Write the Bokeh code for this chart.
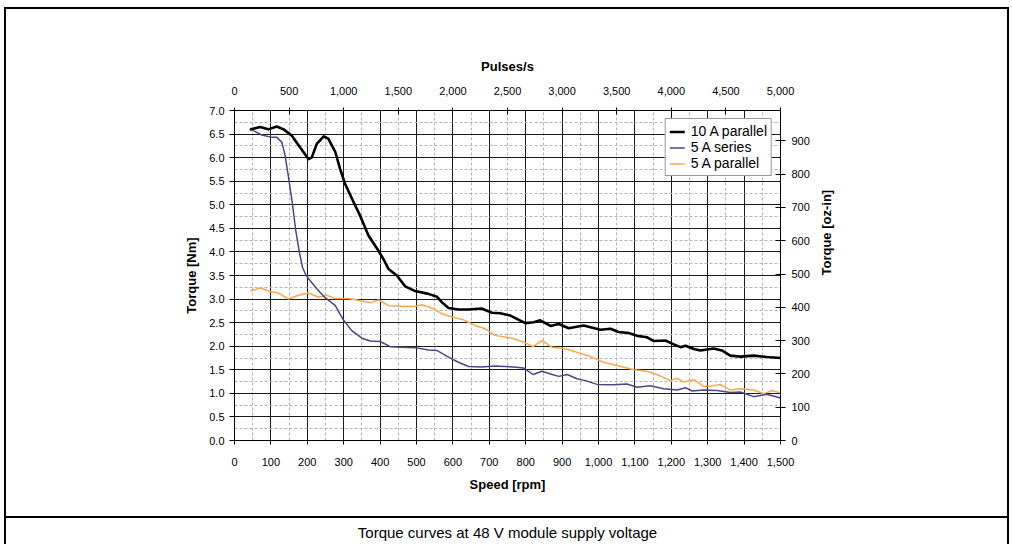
import math
from bokeh.plotting import figure
from bokeh.models import (Range1d, LinearAxis, SingleIntervalTicker, NumeralTickFormatter,
                          FixedTicker, Legend, LegendItem, Grid)
from bokeh.embed import file_html
from bokeh.resources import INLINE

# ---------------- data ----------------
rpm_10a_par = [45, 70, 93, 116, 135, 157, 180, 203, 212, 226, 245, 258, 277, 290, 304, 327, 345,
               368, 396, 409, 423, 446, 469, 496, 533, 556, 570, 588, 615, 643, 679, 707, 730,
               758, 799, 822, 840, 868, 891, 918, 959, 1005, 1033, 1055, 1083, 1106, 1133, 1152,
               1184, 1207, 1225, 1239, 1262, 1280, 1316, 1339, 1362, 1390, 1426, 1463, 1500]
nm_10a_par = [6.60, 6.65, 6.60, 6.66, 6.60, 6.47, 6.22, 5.97, 6.00, 6.29, 6.45, 6.40, 6.12, 5.76,
              5.44, 5.06, 4.77, 4.35, 4.02, 3.85, 3.64, 3.50, 3.27, 3.17, 3.11, 3.05, 2.93, 2.81,
              2.78, 2.78, 2.80, 2.71, 2.70, 2.65, 2.49, 2.51, 2.55, 2.43, 2.47, 2.38, 2.44, 2.35,
              2.37, 2.30, 2.28, 2.22, 2.19, 2.11, 2.12, 2.04, 1.98, 2.01, 1.94, 1.91, 1.95, 1.91,
              1.80, 1.78, 1.80, 1.77, 1.75]

rpm_5a_ser = [45, 75, 103, 116, 130, 139, 149, 159, 168, 178, 187, 196, 208, 226, 249, 277, 299,
              322, 350, 373, 400, 428, 460, 496, 533, 556, 588, 615, 643, 679, 716, 767, 794, 820,
              845, 868, 891, 914, 941, 964, 996, 1042, 1078, 1106, 1142, 1179, 1216, 1239, 1257,
              1289, 1326, 1362, 1390, 1426, 1463, 1500]
nm_5a_ser = [6.60, 6.48, 6.43, 6.43, 6.33, 6.05, 5.55, 5.03, 4.47, 4.00, 3.67, 3.51, 3.39, 3.22,
             3.03, 2.86, 2.56, 2.33, 2.17, 2.11, 2.10, 1.99, 1.98, 1.97, 1.92, 1.91, 1.77, 1.66,
             1.57, 1.56, 1.58, 1.56, 1.54, 1.40, 1.47, 1.41, 1.36, 1.40, 1.31, 1.27, 1.19, 1.18,
             1.20, 1.13, 1.16, 1.10, 1.07, 1.12, 1.05, 1.07, 1.06, 1.02, 1.03, 0.93, 0.98, 0.90]

rpm_5a_par = [45, 70, 98, 121, 148, 176, 203, 231, 254, 277, 313, 350, 373, 396, 423, 460, 492,
              515, 542, 570, 597, 629, 661, 689, 716, 753, 767, 794, 820, 845, 872, 904, 941, 978,
              1014, 1051, 1097, 1133, 1161, 1197, 1216, 1234, 1262, 1289, 1307, 1335, 1362, 1390,
              1426, 1454, 1477, 1500]
nm_5a_par = [3.17, 3.24, 3.16, 3.13, 3.00, 3.08, 3.13, 3.04, 3.08, 3.01, 3.01, 2.96, 2.92, 2.98,
             2.86, 2.85, 2.84, 2.88, 2.81, 2.69, 2.62, 2.56, 2.44, 2.37, 2.23, 2.18, 2.16, 2.09,
             1.99, 2.12, 1.98, 1.95, 1.87, 1.78, 1.66, 1.59, 1.50, 1.47, 1.40, 1.27, 1.32, 1.24,
             1.29, 1.15, 1.15, 1.19, 1.07, 1.10, 1.07, 0.99, 1.06, 1.01]

series_names = ["10 A parallel", "5 A series", "5 A parallel"]
series_colors = ["#000000", "#4B4589", "#FFA64D"]
series_widths = [2.6, 1.5, 1.5]

speed_max = 1500      # rpm
torque_max = 7.0      # Nm
pulses_max = 5000     # pulses/s at speed_max
nm_to_ozin = 141.61

caption = "Torque curves at 48 V module supply voltage"

FONT = "Liberation Sans"

# ---------------- figure ----------------
W, H = 1010, 544
FL, FR, FT, FB = 234, 780, 110, 440   # frame edges on the canvas

# outer frame and caption separator are drawn as CSS backgrounds behind a transparent border
box_css = {
    "background-color": "white",
    "background-image": ", ".join(["linear-gradient(#000, #000)"] * 4),
    "background-position": "4px 7px, 4px 7px, 1007px 7px, 4px 516px",
    "background-size": "1005px 2px, 2px 600px, 2px 600px, 1005px 2px",
    "background-repeat": "no-repeat",
}

p = figure(width=W, height=H, output_backend="svg", toolbar_location=None,
           x_range=Range1d(0, speed_max), y_range=Range1d(0, torque_max),
           x_axis_type=None, y_axis_type=None,
           min_border_left=FL, min_border_right=W - FR, min_border_top=FT,
           min_border_bottom=H - FB, styles=box_css)
p.background_fill_color = "white"
p.border_fill_color = None
p.outline_line_color = "black"
p.outline_line_width = 1

p.extra_x_ranges = {"pulses": Range1d(0, pulses_max)}
p.extra_y_ranges = {"ozin": Range1d(0, torque_max * nm_to_ozin)}

xt = SingleIntervalTicker(interval=100, num_minor_ticks=2)
yt = SingleIntervalTicker(interval=0.5, num_minor_ticks=2)

for dim, tk in ((0, xt), (1, yt)):
    g = Grid(dimension=dim, ticker=tk)
    g.grid_line_color = "#1a1a1a"
    g.grid_line_width = 1
    g.minor_grid_line_color = "#b4b4b4"
    g.minor_grid_line_dash = "3 2"
    g.minor_grid_line_width = 1
    p.add_layout(g)


def style_axis(ax, tin, tout, lstand, astand):
    ax.major_label_text_font = FONT
    ax.major_label_text_font_size = "11px"
    ax.major_label_text_color = "black"
    ax.axis_label_text_font = FONT
    ax.axis_label_text_font_size = "13px"
    ax.axis_label_text_font_style = "bold"
    ax.axis_label_text_color = "black"
    ax.axis_line_color = "black"
    ax.major_tick_line_color = "black"
    ax.major_tick_in = tin
    ax.major_tick_out = tout
    ax.minor_tick_line_color = None
    ax.major_label_standoff = lstand
    ax.axis_label_standoff = astand


bottom = LinearAxis(ticker=xt, formatter=NumeralTickFormatter(format="0,0"), axis_label="Speed [rpm]")
style_axis(bottom, 0, 4, 13, 8)
p.add_layout(bottom, "below")

left = LinearAxis(ticker=yt, formatter=NumeralTickFormatter(format="0.0"), axis_label="Torque [Nm]")
style_axis(left, 0, 5, 5, 7)
p.add_layout(left, "left")

top = LinearAxis(x_range_name="pulses", ticker=SingleIntervalTicker(interval=500, num_minor_ticks=0),
                 formatter=NumeralTickFormatter(format="0,0"), axis_label="Pulses/s")
style_axis(top, 4, 3, 13, 10)
p.add_layout(top, "above")

right = LinearAxis(y_range_name="ozin", ticker=SingleIntervalTicker(interval=100, num_minor_ticks=0),
                   formatter=NumeralTickFormatter(format="0"), axis_label="Torque [oz-in]")
style_axis(right, 5, 5, 6, 14)
right.axis_label_orientation = math.pi / 2
p.add_layout(right, "right")

data = [(rpm_10a_par, nm_10a_par), (rpm_5a_ser, nm_5a_ser), (rpm_5a_par, nm_5a_par)]
renderers = []
for (xs, ys), name, col, lw in zip(data, series_names, series_colors, series_widths):
    r = p.line(xs, ys, line_color=col, line_width=lw, line_join="round", line_cap="round")
    renderers.append((name, r))

# black curve drawn last (on top)
line_rs = [r for _, r in renderers]
p.renderers = [rr for rr in p.renderers if rr not in line_rs] + line_rs[::-1]

legend = Legend(items=[LegendItem(label=n, renderers=[r]) for n, r in renderers],
                location="top_right", margin=8, padding=4, spacing=0,
                glyph_width=15, glyph_height=15, label_height=15, label_standoff=6,
                label_text_font=FONT, label_text_font_size="14px", label_text_color="black",
                border_line_color="#333333", border_line_width=1.5,
                background_fill_color="white", background_fill_alpha=1.0)
p.add_layout(legend)

# ---------------- caption (label of an empty axis stacked under the speed axis) ----------------
cap_axis = LinearAxis(ticker=FixedTicker(ticks=[]), axis_label=caption)
cap_axis.axis_line_color = None
cap_axis.major_tick_line_color = None
cap_axis.minor_tick_line_color = None
cap_axis.major_tick_in = 0
cap_axis.major_tick_out = 0
cap_axis.major_label_standoff = 0
cap_axis.major_label_text_font_size = "0px"
cap_axis.axis_label_text_font = FONT
cap_axis.axis_label_text_font_size = "15px"
cap_axis.axis_label_text_font_style = "normal"
cap_axis.axis_label_text_color = "black"
cap_axis.axis_label_standoff = 29
p.add_layout(cap_axis, "below")

open("out.html", "w").write(file_html(p, INLINE))
